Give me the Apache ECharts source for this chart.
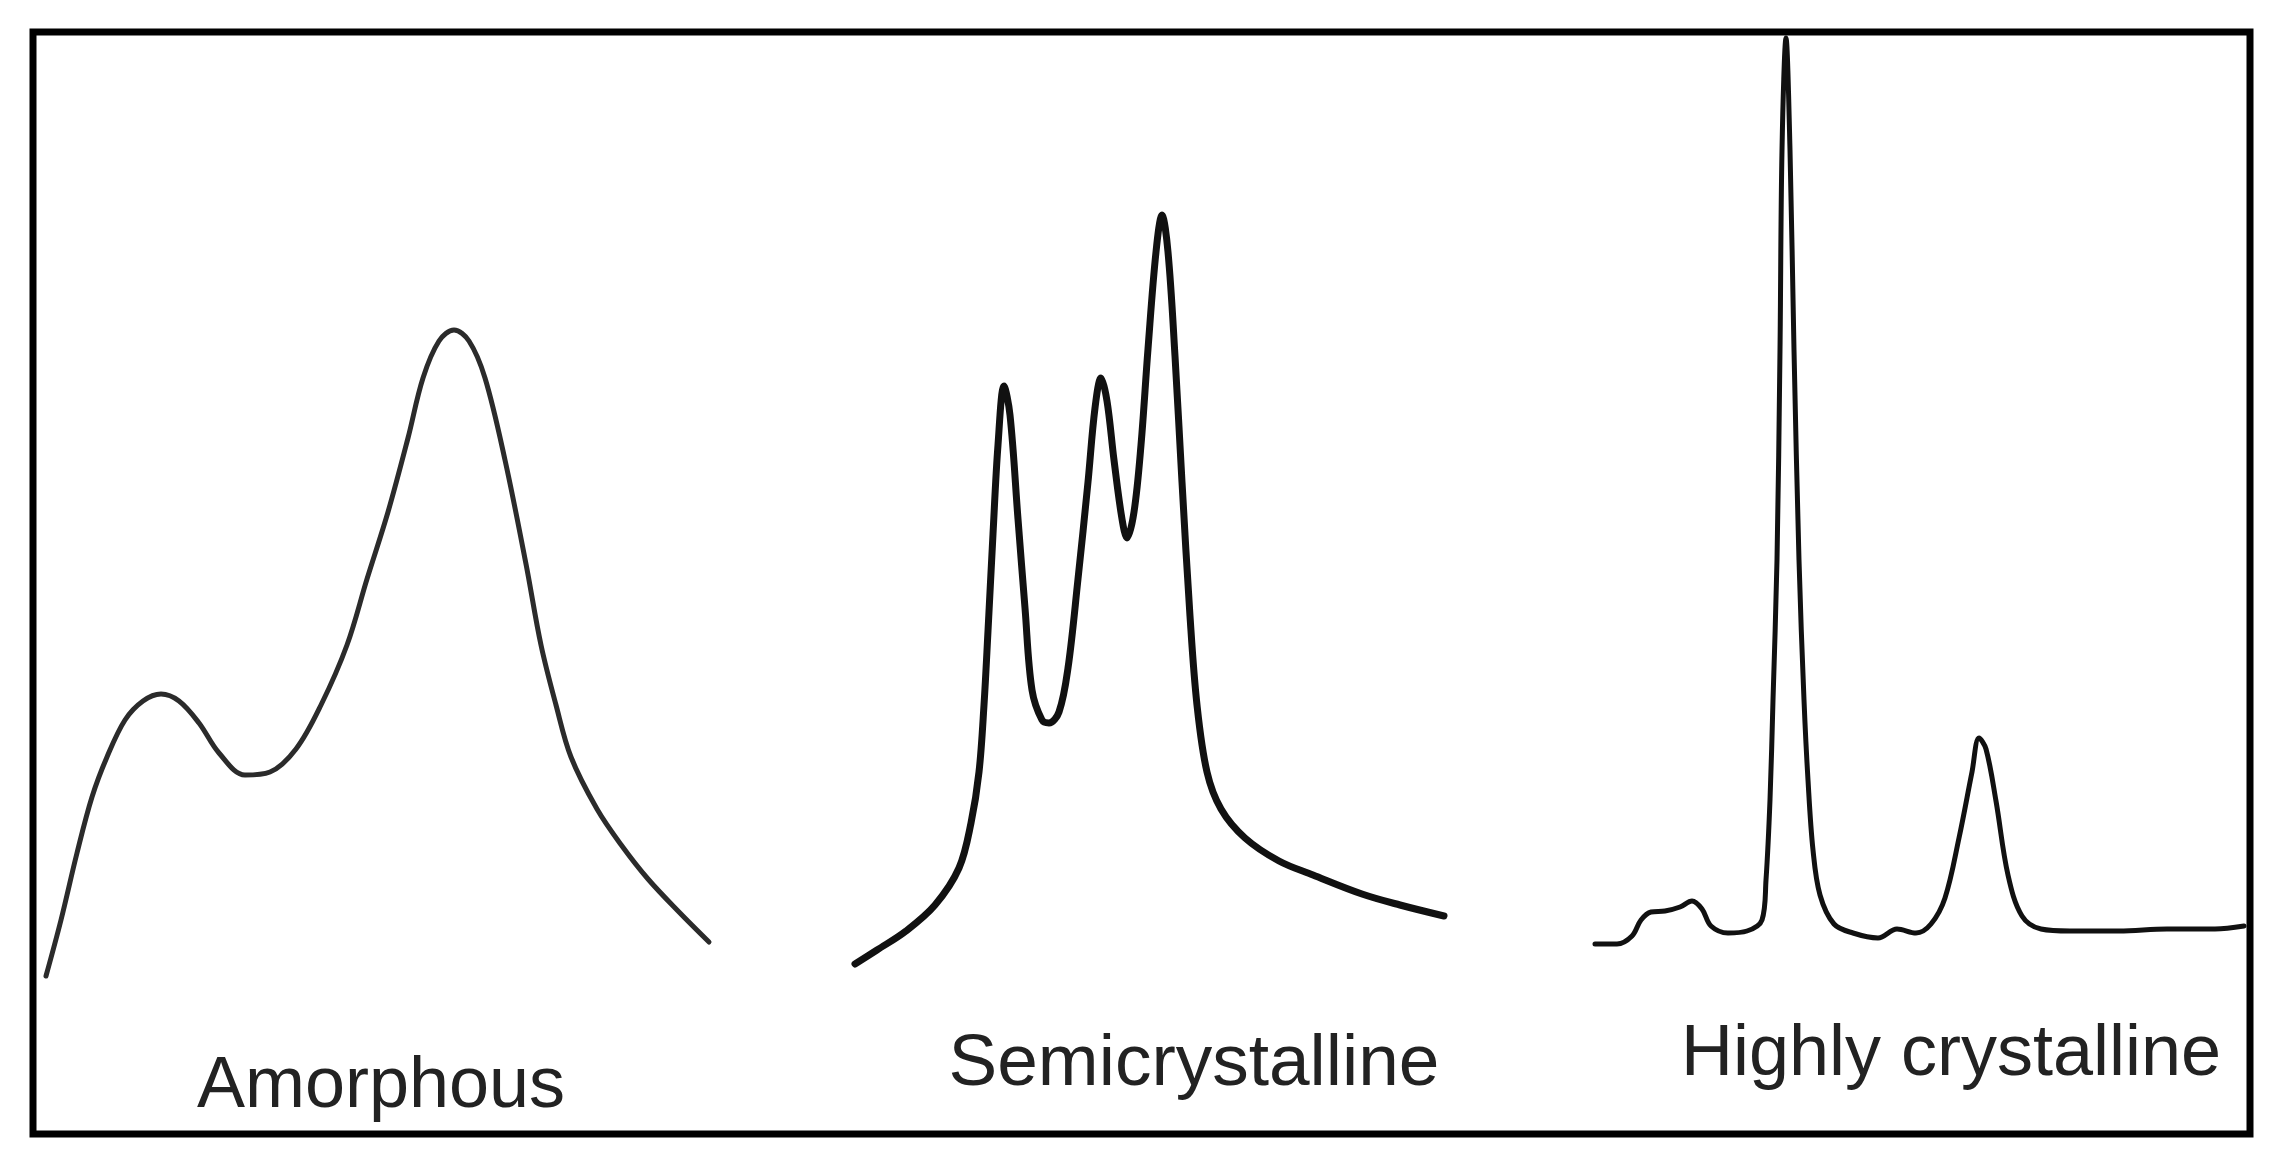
<!DOCTYPE html>
<html>
<head>
<meta charset="utf-8">
<title>XRD patterns</title>
<script src="https://cdn.jsdelivr.net/npm/echarts@6.0.0/dist/echarts.min.js"></script>
<style>
  html, body { margin: 0; padding: 0; background: #fff; }
  #chart { width: 2296px; height: 1163px; }
</style>
</head>
<body>
<div id="chart"></div>
<script>
// panel labels
const labels = ['Amorphous', 'Semicrystalline', 'Highly crystalline'];

// amorphous pattern: position / intensity
const amorphousX = [0.6, 2.1, 3.7, 5.2, 6.7, 8.5, 10.3, 12.1, 13.9, 15.9, 17.9, 20.5, 23.0, 25.6, 28.1, 30.7, 32.7, 34.8, 36.8, 38.3, 39.9, 41.4, 42.9, 44.5, 46.5, 48.6, 50.1, 51.6, 53.1, 55.7, 58.2, 60.8, 63.9, 66.9];
const amorphousY = [5.9, 11.5, 18.2, 23.8, 27.8, 31.5, 33.4, 34.1, 33.4, 31.2, 28.2, 26.0, 26.3, 28.6, 33.0, 39.0, 45.6, 52.3, 59.7, 65.7, 69.4, 70.5, 69.4, 65.7, 57.5, 47.1, 39.0, 33.0, 27.8, 22.6, 18.9, 15.6, 12.3, 9.3];

// semicrystalline pattern
const semiX = [0.5, 2.7, 5.6, 8.5, 10.9, 12.1, 12.9, 13.4, 13.8, 14.3, 14.8, 15.4, 16.0, 16.8, 17.5, 18.2, 19.2, 19.9, 20.9, 21.8, 22.8, 23.8, 24.5, 25.1, 25.7, 26.4, 27.2, 27.7, 28.4, 29.1, 29.8, 30.6, 31.2, 31.8, 32.5, 33.2, 34.0, 34.7, 35.7, 37.1, 39.5, 42.9, 46.3, 51.2, 55.0, 59.4];
const semiY = [7.1, 8.5, 10.4, 13.0, 16.7, 21.2, 26.3, 33.0, 40.4, 50.1, 59.0, 64.9, 62.0, 51.6, 42.7, 34.5, 31.5, 31.2, 32.3, 36.7, 45.6, 55.3, 62.7, 65.7, 63.4, 57.5, 51.6, 49.7, 52.3, 59.0, 68.6, 78.3, 82.0, 78.3, 67.9, 55.3, 41.9, 33.0, 26.3, 22.6, 19.7, 17.4, 16.0, 14.1, 13.0, 11.9];

// highly crystalline pattern
const crystX = [0.5, 2.7, 4.2, 5.1, 6.1, 7.5, 9.0, 10.2, 11.2, 12.1, 13.8, 15.7, 17.2, 17.6, 18.0, 18.3, 18.7, 19.0, 19.2, 19.6, 20.0, 20.4, 20.9, 21.4, 21.8, 22.3, 23.0, 24.4, 26.3, 28.8, 30.7, 32.6, 34.1, 35.5, 36.9, 38.2, 38.9, 39.6, 40.6, 41.8, 43.2, 45.1, 48.0, 52.9, 57.7, 62.5, 65.4];
const crystY = [9.1, 9.1, 9.9, 11.5, 12.3, 12.4, 12.8, 13.4, 12.6, 10.9, 10.2, 10.4, 11.5, 15.5, 23.5, 33.5, 47.5, 68.5, 88.5, 99.7, 88.5, 68.5, 47.5, 33.5, 25.5, 18.5, 14.0, 11.1, 10.2, 9.7, 10.6, 10.2, 11.1, 13.7, 19.7, 26.3, 29.7, 28.6, 23.4, 16.0, 11.9, 10.6, 10.4, 10.4, 10.6, 10.6, 10.9];

const pairs = (xs, ys) => xs.map((x, i) => [x, ys[i]]);

const chart = echarts.init(document.getElementById('chart'), null, { renderer: 'canvas' });

// one grid per panel, all share the same vertical span
const panels = [
  { left: 40, width: 680, xMax: 68, data: pairs(amorphousX, amorphousY), color: '#2b2b2b', lw: 5 },
  { left: 850, width: 600, xMax: 60, data: pairs(semiX, semiY), color: '#111', lw: 7 },
  { left: 1590, width: 656, xMax: 65.6, data: pairs(crystX, crystY), color: '#111', lw: 5 },
];

const hiddenAxis = { show: false, splitLine: { show: false } };

const option = {
  backgroundColor: '#fff',
  animation: false,
  grid: panels.map(p => ({ left: p.left, width: p.width, top: 35, height: 1000 })),
  xAxis: panels.map((p, i) => ({ ...hiddenAxis, type: 'value', gridIndex: i, min: 0, max: p.xMax })),
  yAxis: panels.map((p, i) => ({ ...hiddenAxis, type: 'value', gridIndex: i, min: 0, max: 100 })),
  series: panels.map((p, i) => ({
    name: labels[i],
    type: 'line',
    xAxisIndex: i,
    yAxisIndex: i,
    data: p.data,
    symbol: 'none',
    smooth: 0.35,
    clip: false,
    lineStyle: { color: p.color, width: p.lw, cap: 'round', join: 'round' },
  })),
  graphic: [
    // outer frame
    {
      type: 'rect',
      shape: { x: 33, y: 32, width: 2217, height: 1102 },
      style: { fill: 'none', stroke: '#000', lineWidth: 7 },
      z: 100,
    },
    // panel labels
    { type: 'text', x: 381, y: 1087, style: { text: labels[0], font: '72px "Liberation Sans", Arial, sans-serif', fill: '#222', textAlign: 'center', textVerticalAlign: 'middle' } },
    { type: 'text', x: 1194, y: 1065, style: { text: labels[1], font: '73px "Liberation Sans", Arial, sans-serif', fill: '#222', textAlign: 'center', textVerticalAlign: 'middle' } },
    { type: 'text', x: 1951, y: 1055, style: { text: labels[2], font: '72px "Liberation Sans", Arial, sans-serif', fill: '#222', textAlign: 'center', textVerticalAlign: 'middle' } },
  ],
};

chart.setOption(option);
</script>
</body>
</html>
